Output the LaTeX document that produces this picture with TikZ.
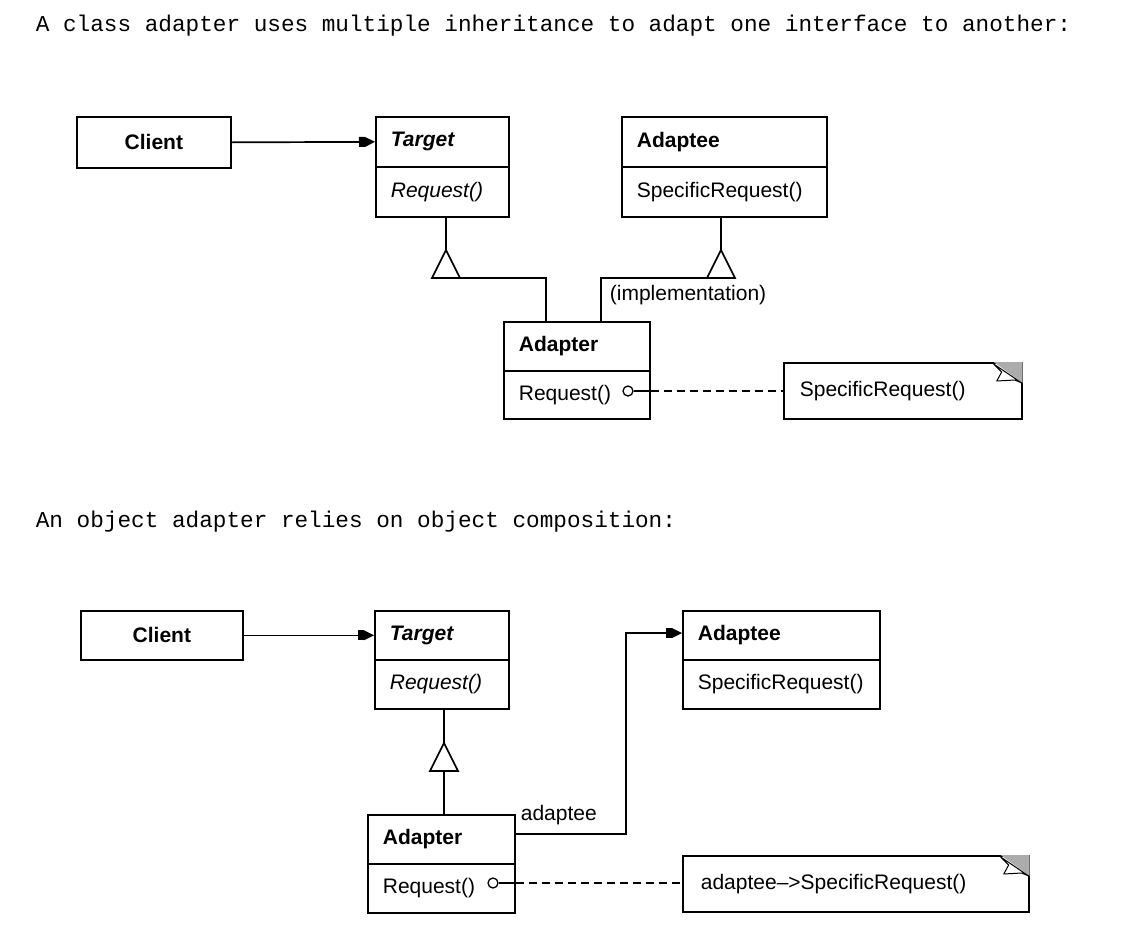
\documentclass[tikz,border=0pt]{standalone}
\usepackage{fontspec}
\setsansfont{Liberation Sans}
\setmonofont{Liberation Mono}
\usetikzlibrary{arrows.meta}
\begin{document}
\begin{tikzpicture}[x=1pt,y=-1pt,
  line width=1.7pt,
  txt/.style={font=\sffamily\fontsize{21}{24}\selectfont, inner sep=0pt},
  cls/.style={txt, draw, anchor=north west, inner xsep=15pt, inner ysep=0pt, align=left},
  clientbox/.style={txt, draw, anchor=north west, align=center, font=\sffamily\bfseries\fontsize{21}{24}\selectfont},
  notebox/.style={cls, inner xsep=16pt},
  heading/.style={font=\ttfamily\fontsize{22.7}{26}\selectfont, anchor=base west, inner sep=0pt},
  assoc/.style={-{Rectangle[length=6pt,width=10pt,line width=0pt]Triangle[length=10pt,width=10pt,line width=0pt]}},
  gen/.style={fill=white, line join=miter},
  lolli/.style={circle, draw, fill=white, line width=1.3pt, minimum size=10pt, inner sep=0pt},
  dep/.style={dash pattern=on 8pt off 5pt},
  fold/.style={fill=gray!65, line width=1pt},
  curl/.style={fill=white, line width=1pt, line join=round}
]
\useasboundingbox (0,0) rectangle (1128,951);

% ---------- class adapter ----------
\node[heading] (h1) at (35,31) {A class adapter uses multiple inheritance to adapt one interface to another:};

\node[clientbox, minimum width=154pt, minimum height=51pt] (c1) at (76,116) {Client};

\node[cls, text width=103pt, minimum height=50pt] (t1h) at (375,116) {\textbf{\textit{Target}}};
\node[cls, text width=103pt, minimum height=50pt] (t1m) at (375,166) {\textit{Request()}};

\node[cls, text width=175pt, minimum height=50pt] (d1h) at (621,116) {\textbf{Adaptee}};
\node[cls, text width=175pt, minimum height=50pt] (d1m) at (621,166) {SpecificRequest()};

\node[cls, text width=116pt, minimum height=49pt] (a1h) at (503,321) {\textbf{Adapter}};
\node[cls, text width=116pt, minimum height=48pt] (a1m) at (503,370) {Request()};

\node[notebox, text width=206pt, minimum height=56pt] (n1) at (783,362) {SpecificRequest()};
\fill[fold] ([xshift=-29pt]n1.north east) -- (n1.north east) -- ([yshift=-21pt]n1.north east) -- cycle;
\draw[curl] ([shift={(-29pt,-2pt)}]n1.north east) -- ([shift={(-21pt,-10pt)}]n1.north east)
  -- ([shift={(-26pt,-19pt)}]n1.north east) -- ([shift={(-8pt,-18pt)}]n1.north east)
  -- ([shift={(-1pt,-21pt)}]n1.north east) -- cycle;

% client uses target
\draw[assoc] (c1.east) -- (t1h.west);

% adapter inherits from target
\coordinate (g1) at (446,250);
\coordinate (b1) at (446,278);
\draw (g1 |- t1m.south) -- (g1);
\draw[gen] (g1) -- ([xshift=14pt]b1) -- ([xshift=-14pt]b1) -- cycle;
\draw (b1) -| ([xshift=-31pt]a1h.north);

% adapter inherits implementation from adaptee
\coordinate (g2) at (721,250);
\coordinate (b2) at (721,278);
\draw (g2 |- d1m.south) -- (g2);
\draw[gen] (g2) -- ([xshift=14pt]b2) -- ([xshift=-14pt]b2) -- cycle;
\draw (b2) -| ([xshift=24pt]a1h.north);
\node[txt, anchor=west] (impl) at (609,295) {(implementation)};

% request implementation note
\node[lolli] (o1) at (628,391) {};
\draw (o1.east) -- (o1 -| a1m.east);
\draw[dep] (o1 -| a1m.east) -- (o1 -| n1.west);

% ---------- object adapter ----------
\node[heading] (h2) at (35,527) {An object adapter relies on object composition:};

\node[clientbox, minimum width=162pt, minimum height=49pt] (c2) at (80,610) {Client};

\node[cls, text width=104pt, minimum height=49pt] (t2h) at (374,610) {\textbf{\textit{Target}}};
\node[cls, text width=104pt, minimum height=49pt] (t2m) at (374,659) {\textit{Request()}};

\node[cls, text width=167pt, minimum height=49pt] (d2h) at (682,610) {\textbf{Adaptee}};
\node[cls, text width=167pt, minimum height=49pt] (d2m) at (682,659) {SpecificRequest()};

\node[cls, text width=117pt, minimum height=49pt] (a2h) at (367,814) {\textbf{Adapter}};
\node[cls, text width=117pt, minimum height=49pt] (a2m) at (367,863) {Request()};

\node[notebox, inner xsep=18pt, text width=310pt, minimum height=56pt] (n2) at (682,855) {adaptee\textendash{}>SpecificRequest()};
\fill[fold] ([xshift=-29pt]n2.north east) -- (n2.north east) -- ([yshift=-21pt]n2.north east) -- cycle;
\draw[curl] ([shift={(-29pt,-2pt)}]n2.north east) -- ([shift={(-21pt,-10pt)}]n2.north east)
  -- ([shift={(-26pt,-19pt)}]n2.north east) -- ([shift={(-8pt,-18pt)}]n2.north east)
  -- ([shift={(-1pt,-21pt)}]n2.north east) -- cycle;

% client uses target
\draw[assoc] (c2.east) -- (t2h.west);

% adapter inherits from target
\coordinate (g3) at (444,743);
\coordinate (b3) at (444,771);
\draw (g3 |- t2m.south) -- (g3);
\draw[gen] (g3) -- ([xshift=14pt]b3) -- ([xshift=-14pt]b3) -- cycle;
\draw (b3) -- (b3 |- a2h.north);

% adapter holds a reference to adaptee
\coordinate (k1) at (626,834);
\coordinate (k2) at (626,633);
\draw[assoc] (a2h.east |- k1) -- (k1) -- (k2) -- (d2h.west |- k2);
\node[txt, anchor=west] (role) at (520,815) {adaptee};

% request implementation note
\node[lolli] (o2) at (493,883) {};
\draw (o2.east) -- (o2 -| a2m.east);
\draw[dep] (o2 -| a2m.east) -- (o2 -| n2.west);
\end{tikzpicture}
\end{document}
